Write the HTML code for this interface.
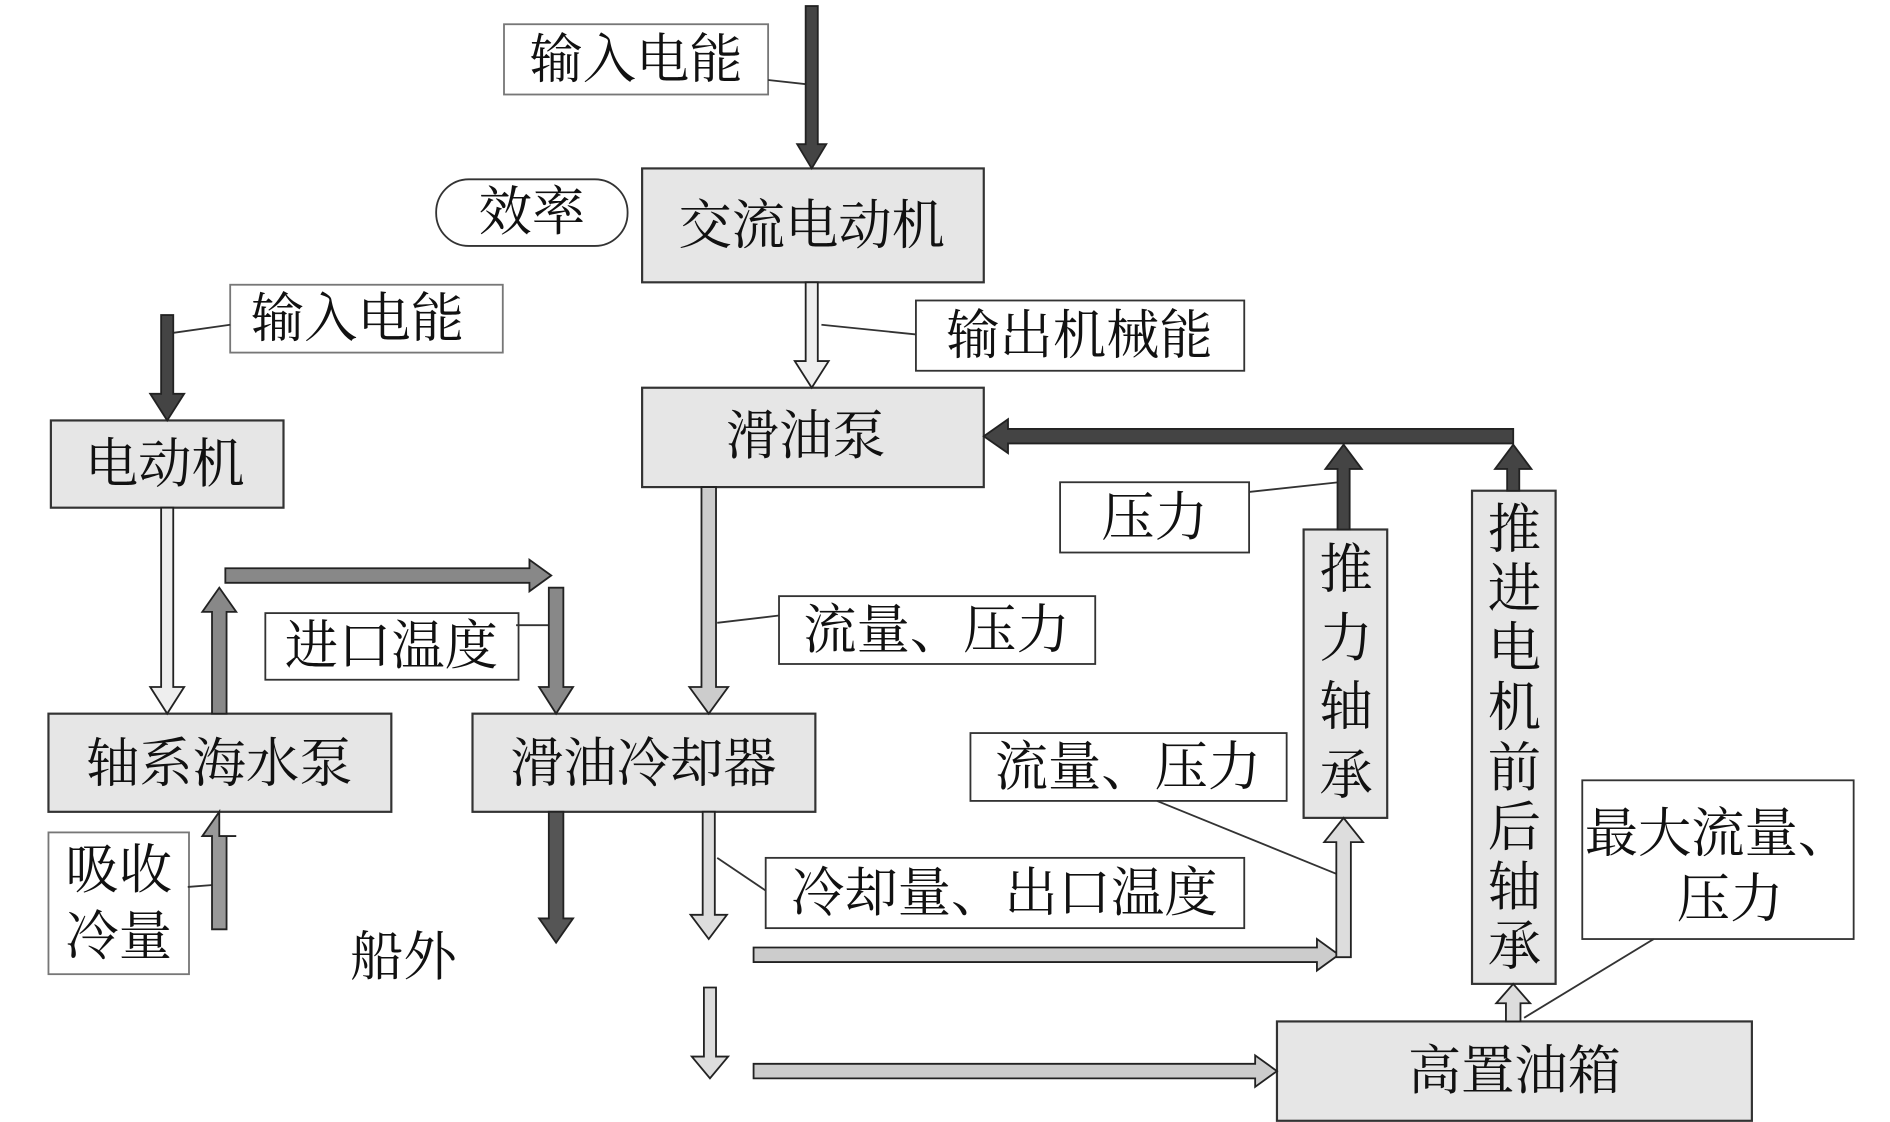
<!DOCTYPE html>
<html><head><meta charset="utf-8"><style>
html,body{margin:0;padding:0;background:#fff}
svg{display:block}
text{font-family:"Liberation Serif","Noto Serif CJK SC",serif;font-size:44px;fill:#111;text-anchor:middle;dominant-baseline:central}
</style></head><body>
<svg width="1890" height="1122" viewBox="0 0 1560 926" preserveAspectRatio="none" xmlns="http://www.w3.org/2000/svg">
<g stroke="#333" stroke-width="1.8" fill="#e6e6e6">
<rect x="530" y="139" width="282" height="94"/>
<rect x="530" y="320" width="282" height="82"/>
<rect x="42" y="347" width="192" height="72"/>
<rect x="40" y="589" width="283" height="81"/>
<rect x="390" y="589" width="283" height="81"/>
<rect x="1076" y="437" width="69" height="238"/>
<rect x="1215" y="405" width="69" height="407"/>
<rect x="1054" y="843" width="392" height="82"/>
</g>
<g stroke="#333" stroke-width="1.5" fill="#fff">
<rect x="416" y="20" width="218" height="58" stroke="#777"/>
<rect x="360" y="148" width="158" height="55" rx="27"/>
<rect x="190" y="235" width="225" height="56" stroke="#777"/>
<rect x="756" y="248" width="271" height="58"/>
<rect x="875" y="398" width="156" height="58"/>
<rect x="643" y="492" width="261" height="56"/>
<rect x="219" y="506" width="209" height="55"/>
<rect x="801" y="605" width="261" height="56"/>
<rect x="632" y="708" width="395" height="58"/>
<rect x="1306" y="644" width="224" height="131"/>
<rect x="40" y="687" width="116" height="117" stroke="#777"/>
</g>
<g stroke="#333" stroke-width="1.5">
<line x1="634" y1="66" x2="670" y2="70"/>
<line x1="141" y1="275" x2="190" y2="268"/>
<line x1="678" y1="268" x2="756" y2="276"/>
<line x1="1031" y1="406" x2="1105" y2="398"/>
<line x1="592" y1="514" x2="643" y2="508"/>
<line x1="426" y1="516" x2="459" y2="516"/>
<line x1="955" y1="661" x2="1105" y2="722"/>
<line x1="592" y1="708" x2="632" y2="735"/>
<line x1="155" y1="732" x2="181" y2="730"/>
<line x1="1258" y1="840" x2="1365" y2="775"/>
</g>
<g stroke="#222" stroke-width="1.5" stroke-linejoin="miter">
<polygon fill="#444" points="665,5 675,5 675,119 682,119 670,139 658,119 665,119"/>
<polygon fill="#eee" points="665,233 675,233 675,298 684,298 670,320 656,298 665,298"/>
<polygon fill="#ccc" points="579,402 591,402 591,567 601,567 585,589 569,567 579,567"/>
<polygon fill="#444" points="133,260 143,260 143,325 152,325 138,347 124,325 133,325"/>
<polygon fill="#eee" points="133,419 143,419 143,567 152,567 138,589 124,567 133,567"/>
<polygon fill="#888" points="175,589 187,589 187,505 195,505 181,485 167,505 175,505"/>
<polygon fill="#888" points="186,469 437,469 437,462 455,475 437,488 437,481 186,481"/>
<polygon fill="#888" points="453,485 465,485 465,567 473,567 459,589 445,567 453,567"/>
<polygon fill="#555" points="453,670 465,670 465,758 473,758 459,778 445,758 453,758"/>
<polygon fill="#ddd" points="580,670 590,670 590,755 600,755 585,775 570,755 580,755"/>
<polygon fill="#ccc" points="622,782 1087,782 1087,775 1105,788 1087,801 1087,794 622,794"/>
<polygon fill="#ddd" points="1103,790 1115,790 1115,695 1125,695 1109,675 1093,695 1103,695"/>
<polygon fill="#ddd" points="581,815 591,815 591,872 601,872 586,890 571,872 581,872"/>
<polygon fill="#ccc" points="622,878 1036,878 1036,871 1054,884 1036,897 1036,890 622,890"/>
<polygon fill="#ddd" points="1243,843 1255,843 1255,828 1263,828 1249,812 1235,828 1243,828"/>
<polygon fill="#444" points="1249,354 832,354 832,346 812,360 832,374 832,366 1249,366"/>
<polygon fill="#444" points="1104,437 1114,437 1114,387 1124,387 1109,367 1094,387 1104,387"/>
<polygon fill="#444" points="1244,405 1254,405 1254,387 1264,387 1249,367 1234,387 1244,387"/>
<polygon fill="#999" points="175,767 187,767 187,690 195,690 181,690 181,670 167,690 175,690"/>
</g>
<text x="670" y="186">交流电动机</text>
<text x="665" y="360">滑油泵</text>
<text x="136" y="383">电动机</text>
<text x="181" y="630">轴系海水泵</text>
<text x="531" y="630">滑油冷却器</text>
<text x="1250" y="884">高置油箱</text>
<text x="525" y="49">输入电能</text>
<text x="439" y="175">效率</text>
<text x="295" y="263">输入电能</text>
<text x="891" y="277">输出机械能</text>
<text x="953" y="427">压力</text>
<text x="773" y="520">流量、压力</text>
<text x="323" y="533">进口温度</text>
<text x="931" y="633">流量、压力</text>
<text x="829" y="737">冷却量、出口温度</text>
<text x="1418" y="688">最大流量、</text>
<text x="1428" y="742">压力</text>
<text x="98" y="718">吸收</text>
<text x="98" y="773">冷量</text>
<text x="333" y="790">船外</text>
<text x="1111" y="470">推</text>
<text x="1111" y="527">力</text>
<text x="1111" y="583">轴</text>
<text x="1111" y="640">承</text>
<text x="1250" y="437">推</text>
<text x="1250" y="486">进</text>
<text x="1250" y="535">电</text>
<text x="1250" y="584">机</text>
<text x="1250" y="634">前</text>
<text x="1250" y="683">后</text>
<text x="1250" y="732">轴</text>
<text x="1250" y="781">承</text>
</svg>
</body></html>
